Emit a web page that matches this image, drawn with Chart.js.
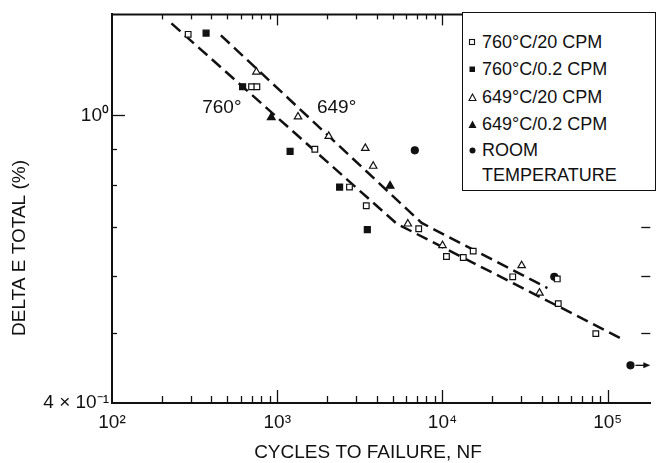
<!DOCTYPE html>
<html lang="en">
<head>
<meta charset="UTF-8" />
<title>Delta E total vs cycles to failure</title>
<script src="https://cdn.jsdelivr.net/npm/chart.js"></script>
<style>
  html, body { margin: 0; padding: 0; background: #fff; overflow: hidden; }
  #wrap { position: relative; width: 656px; height: 463px; }
  #legend {
    position: absolute; left: 462px; top: 12px; width: 194px; height: 179px;
    box-sizing: border-box; border: 1.5px solid #111; background: #fff;
    font: 18px "Liberation Sans", Arial, sans-serif; color: #111;
  }
  #legend svg, #legend span { position: absolute; }
  #legend span { left: 19px; line-height: 22px; white-space: pre; }
</style>
</head>
<body>
<div id="wrap">
  <canvas id="chart" width="656" height="463"></canvas>
  <div id="legend"></div>
</div>

<script>
// cycles to failure (N) and total strain range (%)
const n760fast = [289, 699, 753, 1689, 2736, 3458, 7180, 10570, 13360, 15340, 26610, 49510, 50200, 84700];
const e760fast = [1.295, 1.096, 1.096, 0.898, 0.796, 0.750, 0.697, 0.638, 0.636, 0.649, 0.598, 0.594, 0.549, 0.499];
const n760slow = [371, 617, 1196, 2385, 3508];
const e760slow = [1.300, 1.096, 0.892, 0.796, 0.695];
const n649fast = [748, 1336, 2049, 3411, 3809, 6170, 10000, 30130, 38630];
const e649fast = [1.149, 0.996, 0.936, 0.901, 0.851, 0.708, 0.661, 0.620, 0.568];
const n649slow = [920, 4815];
const e649slow = [0.994, 0.799];
const nRoom = [6800, 47500, 137300];
const eRoom = [0.895, 0.598, 0.451];
const roomRunout = [false, false, true];

// dashed trend lines
const nFit760 = [229, 5300, 121300];
const eFit760 = [1.341, 0.708, 0.491];
const nFit649 = [456, 7480, 43130];
const eFit649 = [1.291, 0.710, 0.577];
const fitLabels = ['760°', '649°'];
const fitLabelN = [462, 2287];
const fitLabelE = [1.026, 1.026];

const legendLabels = ['760°C/20 CPM', '760°C/0.2 CPM', '649°C/20 CPM', '649°C/0.2 CPM', 'ROOM\nTEMPERATURE'];
const xTicks = [1e2, 1e3, 1e4, 1e5];
const xTickLabels = ['10²', '10³', '10⁴', '10⁵'];
const yTicks = [0.4, 1];
const yTickLabels = ['4 × 10⁻¹', '10⁰'];
const yMinorTicks = [0.5, 0.6, 0.7, 0.8, 0.9];

const INK = '#111';
const FONT = '"Liberation Sans", Arial, sans-serif';

const pairs = (xs, ys) => xs.map((x, i) => ({ x, y: ys[i] }));

const fitLine = (xs, ys) => ({
  type: 'line', data: pairs(xs, ys), showLine: true, pointRadius: 0,
  borderColor: INK, borderWidth: 2.5, borderDash: [12, 6], fill: false, order: 2
});
const marks = (xs, ys, style, filled, r) => ({
  data: pairs(xs, ys), showLine: false, pointStyle: style, pointRadius: r,
  backgroundColor: filled ? INK : '#fff', borderColor: INK, borderWidth: 1.2, order: 1
});

// ticks on all four sides, top frame, line labels, runout arrow, axis titles
const frame = {
  id: 'frame',
  afterDraw(chart) {
    const { ctx, chartArea: a, scales: { x, y } } = chart;
    const seg = (x1, y1, x2, y2) => { ctx.beginPath(); ctx.moveTo(x1, y1); ctx.lineTo(x2, y2); ctx.stroke(); };
    ctx.save();
    ctx.strokeStyle = INK;
    ctx.fillStyle = INK;
    ctx.lineWidth = 2;
    seg(a.left, a.top, a.right, a.top);

    ctx.lineWidth = 1.3;
    for (let d = 100; d <= x.max; d *= 10) {
      for (let m = 1; m < 10; m++) {
        const v = m * d;
        if (v <= x.min || v > x.max) continue;
        const px = Math.round(x.getPixelForValue(v)) + 0.5;
        seg(px, a.bottom, px, a.bottom - (m === 1 ? 13 : 7));
        seg(px, a.top, px, a.top + (m === 1 ? 11 : 5));
      }
    }
    [1].concat(yMinorTicks).forEach(v => {
      const py = Math.round(y.getPixelForValue(v)) + 0.5;
      seg(a.left, py, a.left + (v === 1 ? 13 : 5), py);
      seg(a.right, py, a.right - 9, py);
    });

    ctx.font = '19px ' + FONT;
    ctx.textAlign = 'center';
    ctx.textBaseline = 'middle';
    fitLabels.forEach((t, i) => {
      ctx.fillText(t, x.getPixelForValue(fitLabelN[i]), y.getPixelForValue(fitLabelE[i]));
    });

    // runout arrow on room temperature point
    const meta = chart.getDatasetMeta(6);
    meta.data.forEach((pt, i) => {
      if (!roomRunout[i]) return;
      ctx.lineWidth = 1.3;
      seg(pt.x + 5, pt.y, a.right - 5, pt.y);
      ctx.beginPath();
      ctx.moveTo(a.right, pt.y);
      ctx.lineTo(a.right - 7, pt.y - 3);
      ctx.lineTo(a.right - 7, pt.y + 3);
      ctx.closePath();
      ctx.fill();
    });

    ctx.fillText('CYCLES TO FAILURE, NF', 368, 453);
    ctx.translate(20, 248);
    ctx.rotate(-Math.PI / 2);
    ctx.fillText('DELTA E TOTAL (%)', 0, 0);
    ctx.restore();
  }
};

new Chart(document.getElementById('chart'), {
  type: 'scatter',
  data: {
    datasets: [
      fitLine(nFit760, eFit760),
      fitLine(nFit649, eFit649),
      marks(n760fast, e760fast, 'rect', false, 4),
      marks(n760slow, e760slow, 'rect', true, 4.2),
      marks(n649fast, e649fast, 'triangle', false, 4.3),
      marks(n649slow, e649slow, 'triangle', true, 4.5),
      marks(nRoom, eRoom, 'circle', true, 3.5)
    ]
  },
  options: {
    responsive: false,
    animation: false,
    events: [],
    layout: { padding: { top: 11, right: 0, left: 0, bottom: 0 } },
    plugins: { legend: { display: false }, tooltip: { enabled: false } },
    scales: {
      x: {
        type: 'logarithmic', min: 100, max: 181000,
        grid: { display: false, drawTicks: false },
        border: { display: true, color: INK, width: 2 },
        afterBuildTicks: s => { s.ticks = xTicks.map(v => ({ value: v })); },
        afterFit: s => { s.height = 60; },
        ticks: {
          autoSkip: false, maxRotation: 0, padding: 8, color: INK,
          font: { family: FONT, size: 19 },
          callback: (v, i) => xTickLabels[i]
        }
      },
      y: {
        type: 'logarithmic', min: 0.4, max: 1.38,
        grid: { display: false, drawTicks: false },
        border: { display: true, color: INK, width: 2 },
        afterBuildTicks: s => { s.ticks = yTicks.map(v => ({ value: v })); },
        afterFit: s => { s.width = 112; },
        ticks: {
          autoSkip: false, padding: 3, color: INK,
          font: { family: FONT, size: 19 },
          callback: (v, i) => yTickLabels[i]
        }
      }
    }
  },
  plugins: [frame]
});

// legend box in the upper right corner
const legendMarks = [
  '<rect x="1.5" y="1.5" width="5" height="5" fill="#fff" stroke="#111" stroke-width="1.1"/>',
  '<rect x="1.5" y="1.5" width="5.5" height="5.5" fill="#111"/>',
  '<polygon points="4.5,1 8,7.5 1,7.5" fill="#fff" stroke="#111" stroke-width="1.1"/>',
  '<polygon points="4.5,0.5 8.5,8 0.5,8" fill="#111"/>',
  '<circle cx="4.5" cy="4.5" r="3" fill="#111"/>'
];
const legendRowY = [29, 56, 84, 111, 137];
const legendEl = document.getElementById('legend');
legendLabels.forEach((label, i) => {
  const cy = legendRowY[i];
  legendEl.insertAdjacentHTML('beforeend',
    `<svg width="9" height="9" style="left:5px;top:${cy - 4.5}px">${legendMarks[i]}</svg>` +
    `<span style="top:${cy - 11}px;${i === 4 ? 'line-height:25px;top:' + (cy - 12.5) + 'px' : ''}">${label}</span>`);
});
</script>
</body>
</html>
